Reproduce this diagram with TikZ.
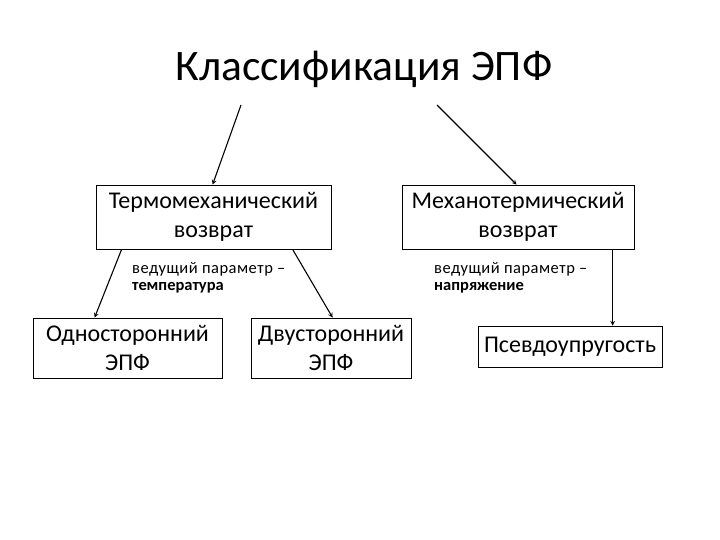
\documentclass[tikz,border=0pt]{standalone}
\usepackage{fontspec}
\setmainfont{Carlito}
\newfontfamily\spacedfont[LetterSpace=3]{Carlito}
\usepackage{tikz}
\usetikzlibrary{arrows, positioning}
\tikzstyle{box} = [rectangle, draw=black, line width=0.8pt, align=center, inner sep=0pt, font=\fontsize{24}{29}\selectfont]
\tikzstyle{note} = [align=left, inner sep=0pt, font=\fontsize{16.5}{17}\selectfont]
\tikzstyle{arrow} = [line width=1.1pt,->,>=stealth]

\begin{document}
\begin{tikzpicture}[x=1pt, y=-1pt]
\useasboundingbox (0,0) rectangle (720,540);

\node (title) [anchor=base, inner sep=0pt, font=\fontsize{43.5}{50}\selectfont] at (364,81) {Классификация ЭПФ};
\coordinate (t_left) at (241,105);
\coordinate (t_right) at (437,105);

\node (termo) [box, minimum width=235pt, minimum height=64pt] at (213.5,217) {Термомеханический\\возврат};
\node (mech) [box, minimum width=232pt, minimum height=64pt] at (518,217) {Механотермический\\возврат};
\node (param_t) [note, anchor=base west] at (132,290) {{\spacedfont ведущий параметр –}\\\textbf{температура}};
\node (param_m) [note, anchor=base west] at (434,290) {{\spacedfont ведущий параметр –}\\\textbf{напряжение}};
\node (odno) [box, minimum width=189pt, minimum height=60pt] at (127.5,348) {Односторонний\\ЭПФ};
\node (dvu) [box, minimum width=160pt, minimum height=60pt] at (331,348) {Двусторонний\\ЭПФ};
\node (pseudo) [box, minimum width=184pt, minimum height=41pt] at (570,346.5) {Псевдоупругость};

\draw [arrow] (t_left) -- ([xshift=117pt]termo.north west);
\draw [arrow] (t_right) -- ([xshift=115pt]mech.north west);
\draw [arrow] ([xshift=26pt]termo.south west) -- ([xshift=62pt]odno.north west);
\draw [arrow] ([xshift=197pt]termo.south west) -- ([xshift=82pt]dvu.north west);
\draw [arrow] ([xshift=211pt]mech.south west) -- ([xshift=135pt]pseudo.north west);

\end{tikzpicture}
\end{document}
